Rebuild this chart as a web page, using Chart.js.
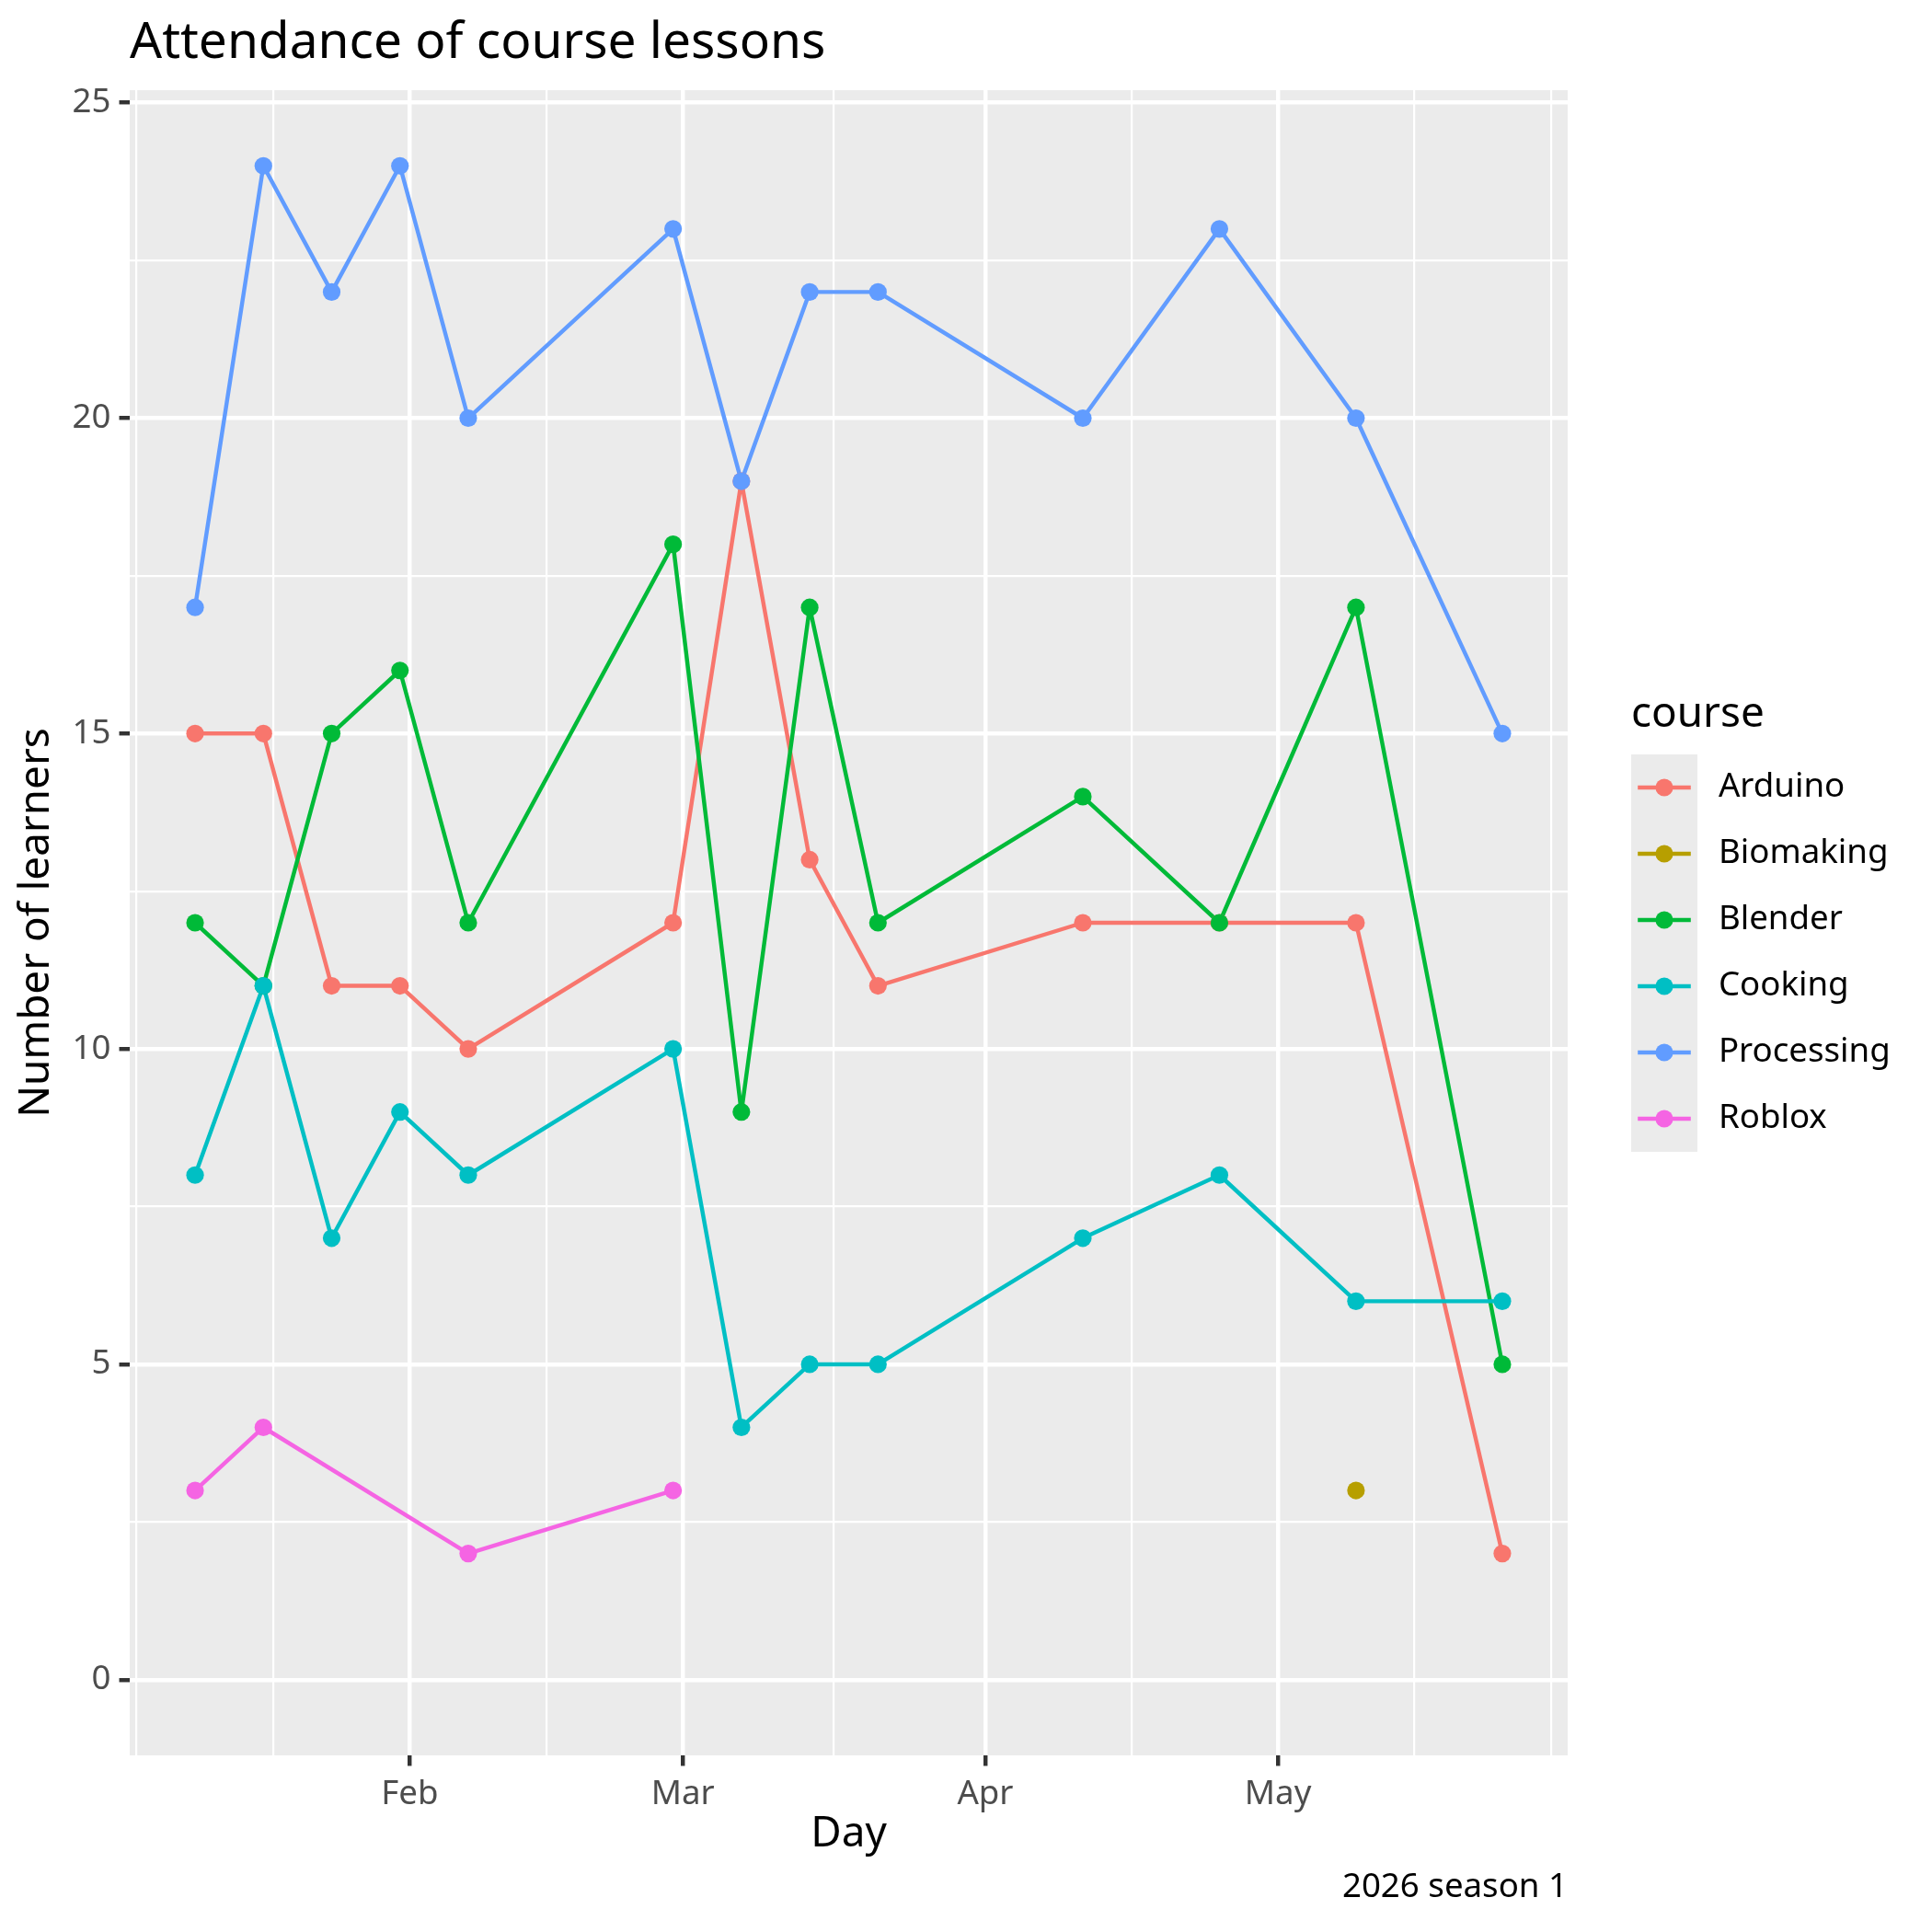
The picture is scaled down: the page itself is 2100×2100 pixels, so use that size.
<!DOCTYPE html>
<html lang="en">
<head>
<meta charset="UTF-8" />
<title>Attendance of course lessons</title>
<style>
    body { margin: 0; background: #fff; }
    canvas { display: block; }
</style>
</head>
<body>
<canvas id="chart" width="2100" height="2100"></canvas>
<script src="https://cdn.jsdelivr.net/npm/chart.js"></script>
<script>
    // courses and their ggplot hue colours
    const courses = ['Arduino', 'Biomaking', 'Blender', 'Cooking', 'Processing', 'Roblox'];
    const colors = ['#F8766D', '#B79F00', '#00BA38', '#00BFC4', '#619CFF', '#F564E3'];

    // lesson days (weekly, with breaks)
    const lessonDays = ['2026-01-10', '2026-01-17', '2026-01-24', '2026-01-31', '2026-02-07', '2026-02-28',
        '2026-03-07', '2026-03-14', '2026-03-21', '2026-04-11', '2026-04-25', '2026-05-09', '2026-05-24'];
    const arduino = [15, 15, 11, 11, 10, 12, 19, 13, 11, 12, 12, 12, 2];
    const blender = [12, 11, 15, 16, 12, 18, 9, 17, 12, 14, 12, 17, 5];
    const cooking = [8, 11, 7, 9, 8, 10, 4, 5, 5, 7, 8, 6, 6];
    const processing = [17, 24, 22, 24, 20, 23, 19, 22, 22, 20, 23, 20, 15];
    const robloxDays = ['2026-01-10', '2026-01-17', '2026-02-07', '2026-02-28'];
    const roblox = [3, 4, 2, 3];
    const biomakingDays = ['2026-05-09'];
    const biomaking = [3];

    // axis breaks
    const xBreaks = ['2026-02-01', '2026-03-01', '2026-04-01', '2026-05-01'];
    const xLabels = ['Feb', 'Mar', 'Apr', 'May'];
    const xMinorBreaks = ['2026-01-04', '2026-01-18', '2026-02-15', '2026-03-16T12:00', '2026-04-16', '2026-05-15', '2026-05-29'];
    const yBreaks = [0, 5, 10, 15, 20, 25];
    const yMinorBreaks = [2.5, 7.5, 12.5, 17.5, 22.5];
    const yLimits = [-1.2, 25.2];

    const toDay = s => Date.parse(s.length > 10 ? s + 'Z' : s) / 864e5;

    const series = {
        Arduino: [lessonDays, arduino],
        Biomaking: [biomakingDays, biomaking],
        Blender: [lessonDays, blender],
        Cooking: [lessonDays, cooking],
        Processing: [lessonDays, processing],
        Roblox: [robloxDays, roblox]
    };

    const FONT = 'Noto Sans';
    const PX = 300 / 72;             // points to pixels at 300 dpi
    const lineW = 0.5 * 72.27 / 25.4 / 96 * 300;
    const dotR = 9.6;

    const firstDay = toDay(lessonDays[0]);
    const lastDay = toDay(lessonDays[lessonDays.length - 1]);
    const spread = lastDay - firstDay;

    const datasets = [];
    courses.forEach((name, i) => {
        const [days, vals] = series[name];
        const pts = days.map((d, k) => ({ x: toDay(d), y: vals[k] }));
        // lines first, points on top (like geom_line + geom_point)
        datasets.push({
            label: name, data: pts, borderColor: colors[i], borderWidth: lineW,
            pointRadius: 0, fill: false, tension: 0, borderJoinStyle: 'round',
            order: 20 - i
        });
        datasets.push({
            label: name, data: pts, showLine: false, pointRadius: dotR,
            pointBackgroundColor: colors[i], pointBorderWidth: 0, pointHoverRadius: dotR,
            order: 10 - i
        });
    });

    const majorX = xBreaks.map(toDay);
    const minorX = xMinorBreaks.map(toDay);

    function gridOpts(isMajor) {
        return {
            color: '#FFFFFF',
            lineWidth: ctx => isMajor(ctx.tick && ctx.tick.value) ? lineW : lineW / 2,
            drawTicks: true,
            tickLength: 2.75 * PX,
            tickWidth: lineW,
            tickColor: ctx => isMajor(ctx.tick && ctx.tick.value) ? '#333333' : 'rgba(0,0,0,0)'
        };
    }
    const isMajorX = v => majorX.some(m => Math.abs(m - v) < 1e-6);
    const isMajorY = v => yBreaks.includes(v);

    const decor = {
        id: 'decor',
        beforeDraw(chart) {
            const { ctx, chartArea: a } = chart;
            ctx.save();
            ctx.fillStyle = '#EBEBEB';
            ctx.fillRect(a.left, a.top, a.right - a.left, a.bottom - a.top);
            ctx.restore();
        },
        afterDraw(chart) {
            const { ctx, chartArea: a } = chart;
            ctx.save();
            ctx.fillStyle = '#000';
            // title
            ctx.font = `${13.2 * PX}px "${FONT}"`;
            ctx.textAlign = 'left';
            ctx.textBaseline = 'alphabetic';
            ctx.fillText('Attendance of course lessons', a.left, 63);
            // axis titles
            ctx.font = `${11 * PX}px "${FONT}"`;
            ctx.textAlign = 'center';
            ctx.textBaseline = 'middle';
            ctx.fillText('Day', (a.left + a.right) / 2, 1994);
            ctx.save();
            ctx.translate(40, (a.top + a.bottom) / 2);
            ctx.rotate(-Math.PI / 2);
            ctx.fillText('Number of learners', 0, 0);
            ctx.restore();
            // caption
            ctx.font = `${8.8 * PX}px "${FONT}"`;
            ctx.textAlign = 'right';
            ctx.fillText('2026 season 1', a.right, 2052);
            // legend
            const lx = 1773, keyW = 17.28 * PX, keyTop = 820;
            ctx.font = `${11 * PX}px "${FONT}"`;
            ctx.textAlign = 'left';
            ctx.fillText('course', lx, 777);
            ctx.fillStyle = '#EBEBEB';
            ctx.fillRect(lx, keyTop, keyW, keyW * courses.length);
            ctx.font = `${8.8 * PX}px "${FONT}"`;
            courses.forEach((name, i) => {
                const cy = keyTop + keyW * (i + 0.5);
                ctx.strokeStyle = colors[i];
                ctx.lineWidth = lineW;
                ctx.beginPath();
                ctx.moveTo(lx + keyW * 0.1, cy);
                ctx.lineTo(lx + keyW * 0.9, cy);
                ctx.stroke();
                ctx.fillStyle = colors[i];
                ctx.beginPath();
                ctx.arc(lx + keyW / 2, cy, dotR, 0, Math.PI * 2);
                ctx.fill();
                ctx.fillStyle = '#000';
                ctx.fillText(name, lx + keyW + 5.5 * PX, cy);
            });
            ctx.restore();
        }
    };

    new Chart(document.getElementById('chart'), {
        type: 'line',
        data: { datasets },
        options: {
            responsive: false,
            animation: false,
            devicePixelRatio: 1,
            layout: { padding: { left: 0, top: 98, right: 396, bottom: 0 } },
            plugins: { legend: { display: false }, tooltip: { enabled: false } },
            scales: {
                x: {
                    type: 'linear',
                    min: firstDay - 0.05 * spread,
                    max: lastDay + 0.05 * spread,
                    afterBuildTicks: s => { s.ticks = [...minorX, ...majorX].sort((p, q) => p - q).map(v => ({ value: v })); },
                    afterFit: s => { s.height = 192; },
                    grid: gridOpts(isMajorX),
                    border: { display: false },
                    ticks: {
                        autoSkip: false, maxRotation: 0, padding: 2.2 * PX,
                        color: '#4D4D4D', font: { family: FONT, size: 8.8 * PX },
                        callback: v => { const k = majorX.findIndex(m => Math.abs(m - v) < 1e-6); return k >= 0 ? xLabels[k] : ''; }
                    }
                },
                y: {
                    type: 'linear',
                    min: yLimits[0],
                    max: yLimits[1],
                    afterBuildTicks: s => { s.ticks = [...yMinorBreaks, ...yBreaks].sort((p, q) => p - q).map(v => ({ value: v })); },
                    afterFit: s => { s.width = 141; },
                    grid: gridOpts(isMajorY),
                    border: { display: false },
                    ticks: {
                        autoSkip: false, padding: 2.2 * PX,
                        color: '#4D4D4D', font: { family: FONT, size: 8.8 * PX },
                        callback: v => isMajorY(v) ? String(v) : ''
                    }
                }
            }
        },
        plugins: [decor]
    });
</script>
</body>
</html>
